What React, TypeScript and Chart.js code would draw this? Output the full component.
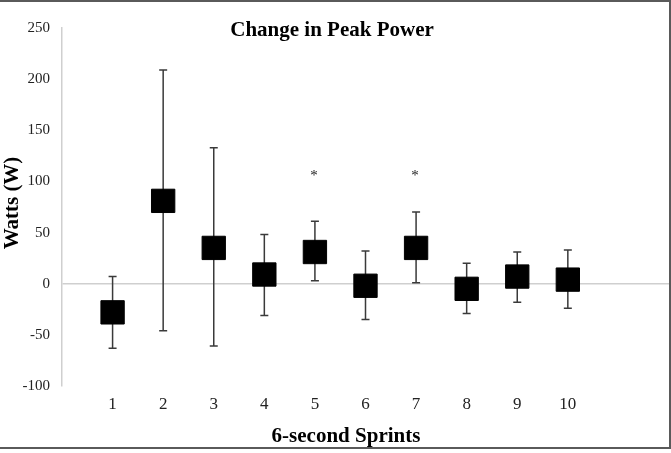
import React, { useEffect, useRef } from "react";
import { Chart, registerables } from "chart.js";

Chart.register(...registerables);

const sprints = [1, 2, 3, 4, 5, 6, 7, 8, 9, 10];
const meanChange = [-28, 81, 35, 9, 31, -2, 35, -5, 7, 4];
const errorTop = [7, 209, 133, 48, 61, 32, 70, 20, 31, 33];
const errorBottom = [-63, -46, -61, -31, 3, -35, 1, -29, -18, -24];
const significantSprints = [5, 7];
const asteriskLevel = 105;
const yTicks = [-100, -50, 0, 50, 100, 150, 200, 250];

const SERIF = '"Liberation Serif", "Times New Roman", serif';

const errorBarPlugin = {
  id: "errorBars",
  beforeDatasetsDraw(chart: any) {
    const { ctx, scales } = chart;
    const xs = scales.x;
    const ys = scales.y;
    ctx.save();
    ctx.strokeStyle = "#3a3a3a";
    ctx.lineWidth = 1.5;
    sprints.forEach((s, i) => {
      const x = xs.getPixelForValue(s);
      const yt = ys.getPixelForValue(errorTop[i]);
      const yb = ys.getPixelForValue(errorBottom[i]);
      ctx.beginPath();
      ctx.moveTo(x, yt);
      ctx.lineTo(x, yb);
      ctx.moveTo(x - 4, yt);
      ctx.lineTo(x + 4, yt);
      ctx.moveTo(x - 4, yb);
      ctx.lineTo(x + 4, yb);
      ctx.stroke();
    });
    ctx.restore();
  },
  afterDraw(chart: any) {
    const { ctx, scales } = chart;
    ctx.save();
    ctx.fillStyle = "#222";
    ctx.font = `15px ${SERIF}`;
    ctx.textAlign = "center";
    ctx.textBaseline = "middle";
    significantSprints.forEach((s) => {
      ctx.fillText("*", scales.x.getPixelForValue(s) - 1, scales.y.getPixelForValue(asteriskLevel));
    });
    ctx.fillStyle = "#000";
    ctx.font = `bold 21px ${SERIF}`;
    ctx.fillText("Change in Peak Power", 332, 31);
    ctx.fillText("6-second Sprints", 346, 437);
    ctx.translate(13, 203);
    ctx.rotate(-Math.PI / 2);
    ctx.fillText("Watts (W)", 0, 0);
    ctx.restore();
    // outer frame (top, right, bottom)
    ctx.save();
    ctx.strokeStyle = "#5a5a5a";
    ctx.lineWidth = 2;
    ctx.beginPath();
    ctx.moveTo(0, 1);
    ctx.lineTo(670, 1);
    ctx.lineTo(670, 448);
    ctx.lineTo(0, 448);
    ctx.stroke();
    ctx.restore();
  },
};

export default function App() {
  const ref = useRef<HTMLCanvasElement | null>(null);
  useEffect(() => {
    if (!ref.current) return;
    const chart = new Chart(ref.current, {
      type: "scatter",
      data: {
        datasets: [
          {
            label: "Change in Peak Power",
            data: sprints.map((s, i) => ({ x: s, y: meanChange[i] })),
            pointStyle: "rect",
            pointRadius: 16.5,
            pointHoverRadius: 16.5,
            backgroundColor: "#000",
            borderColor: "#000",
            borderWidth: 1,
          },
        ],
      },
      options: {
        responsive: false,
        animation: false,
        events: [],
        layout: { autoPadding: false, padding: { left: 0, right: 2, top: 28, bottom: 0 } },
        plugins: {
          legend: { display: false },
          title: { display: false },
          tooltip: { enabled: false },
        },
        scales: {
          x: {
            type: "linear",
            min: 0,
            max: 12,
            afterFit: (scale: any) => {
              scale.height = 67;
              scale.paddingLeft = 0;
              scale.paddingRight = 0;
            },
            afterBuildTicks: (scale: any) => {
              scale.ticks = Array.from({ length: 13 }, (_, v) => ({ value: v }));
            },
            ticks: {
              autoSkip: false,
              maxRotation: 0,
              padding: 8,
              color: "#222",
              font: { family: SERIF, size: 17 },
              callback: (v: any) => (sprints.includes(v) ? String(v) : ""),
            },
            grid: { display: false, drawTicks: false },
            border: { display: false },
          },
          y: {
            min: -100,
            max: 250,
            afterFit: (scale: any) => {
              scale.width = 62;
              scale.paddingTop = 0;
              scale.paddingBottom = 0;
            },
            afterBuildTicks: (scale: any) => {
              scale.ticks = yTicks.map((v) => ({ value: v }));
            },
            ticks: {
              padding: 12,
              color: "#222",
              font: { family: SERIF, size: 15 },
            },
            grid: {
              drawTicks: false,
              color: (c: any) => (c.tick && c.tick.value === 0 ? "#cfcfcf" : "rgba(0,0,0,0)"),
              lineWidth: 1.5,
            },
            border: { display: true, color: "#cfcfcf", width: 1.5 },
          },
        },
      },
      plugins: [errorBarPlugin],
    });
    return () => chart.destroy();
  }, []);

  return (
    <div style={{ position: "fixed", left: 0, top: 0, width: 671, height: 453, background: "#fff" }}>
      <canvas ref={ref} width={671} height={453} style={{ display: "block" }} />
    </div>
  );
}
